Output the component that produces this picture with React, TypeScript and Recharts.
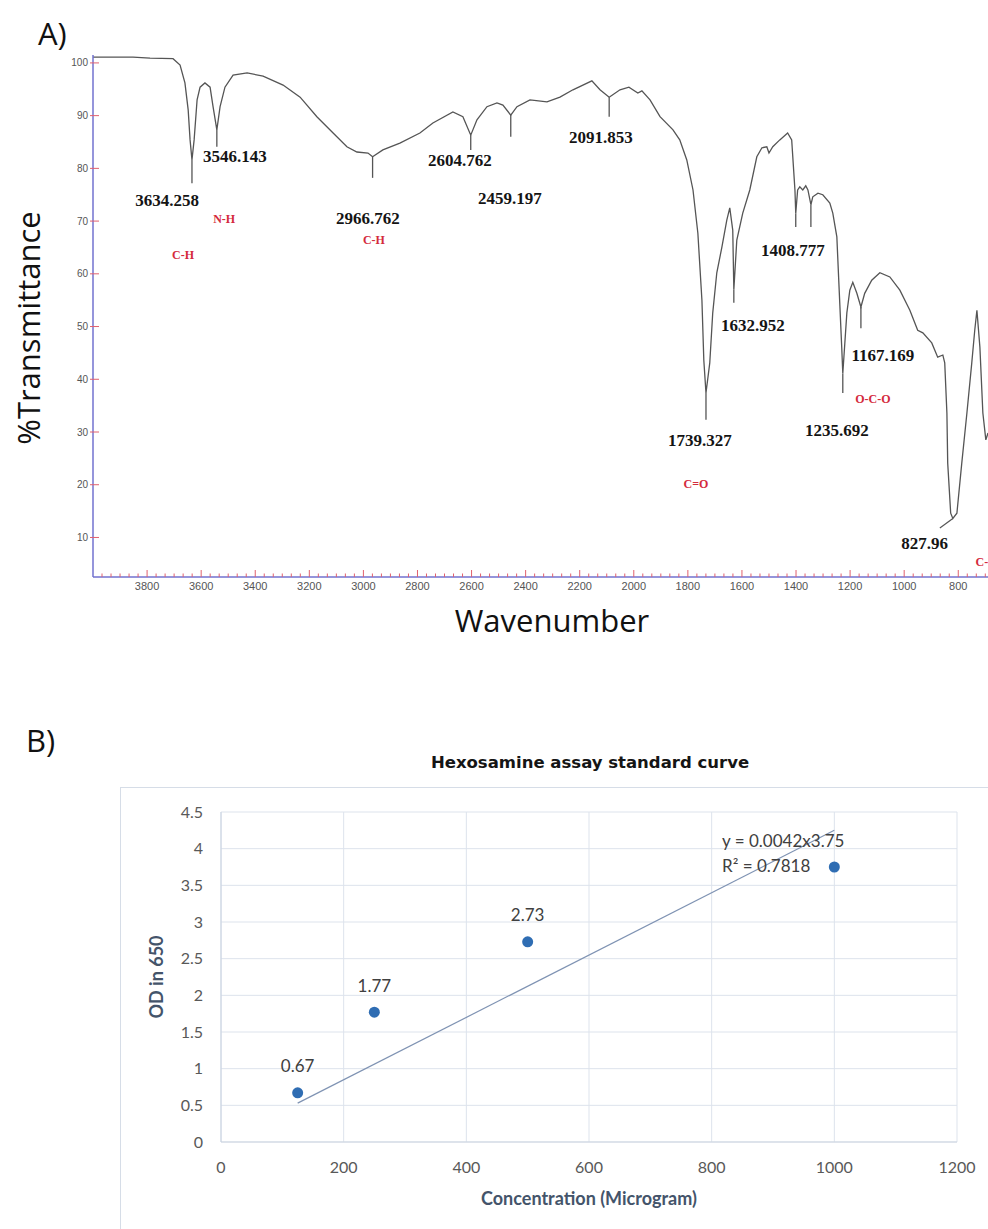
import React from "react";
import {
  LineChart,
  Line,
  XAxis,
  YAxis,
  ReferenceLine,
  ReferenceDot,
  ComposedChart,
  Scatter,
  CartesianGrid,
  LabelList,
} from "recharts";

// ---------- A) FTIR spectrum ----------
const wavenumbers = [
  4000, 3852, 3789, 3704, 3678, 3660, 3648, 3641, 3634, 3626,
  3615, 3604, 3586, 3567, 3556, 3542, 3530, 3512, 3482, 3430,
  3371, 3297, 3234, 3172, 3112, 3061, 3024, 2983, 2966, 2928,
  2865, 2791, 2743, 2669, 2632, 2603, 2580, 2543, 2506, 2484,
  2455, 2432, 2384, 2321, 2273, 2225, 2155, 2125, 2091, 2051,
  2018, 1985, 1970, 1940, 1903, 1855, 1830, 1804, 1781, 1763,
  1748, 1741, 1733, 1719, 1708, 1693, 1674, 1656, 1645, 1634,
  1630, 1619, 1597, 1571, 1545, 1526, 1508, 1500, 1486, 1460,
  1431, 1416, 1404, 1401, 1394, 1386, 1375, 1364, 1356, 1345,
  1338, 1319, 1301, 1275, 1264, 1249, 1242, 1231, 1227, 1212,
  1201, 1190, 1175, 1160, 1146, 1120, 1090, 1053, 1016, 979,
  950, 931, 898, 876, 857, 850, 842, 839, 828, 820,
  805, 787, 768, 750, 739, 731, 720, 709, 698, 690,
];

const transmittance = [
  101.1, 101.1, 100.9, 100.8, 99.6, 96.2, 91.1, 85.4, 81.6, 85.4,
  93.0, 95.4, 96.2, 95.4, 91.7, 87.3, 91.7, 95.4, 97.7, 98.1,
  97.5, 95.8, 93.5, 89.8, 86.7, 84.1, 83.1, 82.9, 82.2, 83.5,
  84.8, 86.7, 88.6, 90.7, 89.8, 86.3, 89.2, 91.7, 92.4, 92.0,
  90.1, 91.7, 93.0, 92.6, 93.5, 94.9, 96.6, 94.9, 93.5, 94.9,
  95.4, 94.3, 94.7, 93.0, 89.8, 87.3, 85.4, 81.6, 75.9, 67.7,
  55.0, 43.6, 37.4, 43.1, 52.6, 60.2, 65.1, 70.2, 72.5, 68.3,
  57.0, 66.4, 71.5, 75.9, 82.2, 83.9, 84.1, 82.9, 84.1, 85.4,
  86.7, 85.4, 75.9, 71.5, 75.9, 76.5, 75.9, 76.7, 75.9, 73.1,
  74.6, 75.3, 75.0, 73.4, 71.5, 67.0, 58.8, 46.1, 41.1, 52.6,
  56.9, 58.4, 56.3, 53.7, 56.3, 58.8, 60.2, 59.4, 56.9, 53.1,
  49.3, 48.8, 46.9, 44.2, 44.6, 43.1, 33.6, 24.1, 14.6, 13.6,
  14.6, 24.1, 33.6, 43.1, 49.3, 53.1, 46.1, 33.6, 28.5, 29.8,
];

const spectrum = wavenumbers.map((wn, i) => ({ wn, t: transmittance[i] }));

// marker strokes under the labelled bands: wavenumber, curve minimum, end of stroke
const peakLines = [
  [3634, 81.6, 77.2],
  [3542, 87.3, 84.1],
  [2966, 82.2, 78.2],
  [2603, 86.3, 83.5],
  [2455, 90.1, 86.0],
  [2091, 93.5, 89.8],
  [1733, 37.4, 32.3],
  [1630, 57.0, 54.5],
  [1401, 71.5, 68.9],
  [1345, 73.1, 68.9],
  [1227, 41.1, 37.4],
  [1160, 53.7, 49.7],
];

const peakLabels = [
  ["3634.258", 3726, 74.0],
  ["3546.143", 3475, 82.4],
  ["2966.762", 2983, 70.6],
  ["2604.762", 2643, 81.6],
  ["2459.197", 2458, 74.4],
  ["2091.853", 2122, 86.0],
  ["1739.327", 1756, 28.5],
  ["1632.952", 1560, 50.3],
  ["1408.777", 1412, 64.5],
  ["1235.692", 1249, 30.4],
  ["1167.169", 1079, 44.6],
  ["827.96", 924, 8.9],
];

const bondLabels = [
  ["N-H", 3515, 70.4],
  ["C-H", 3667, 63.6],
  ["C-H", 2961, 66.4],
  ["C=O", 1770, 20.1],
  ["O-C-O", 1116, 36.4],
];

const majorTicks = [3800, 3600, 3400, 3200, 3000, 2800, 2600, 2400, 2200, 2000, 1800, 1600, 1400, 1200, 1000, 800];
const percentTicks = [10, 20, 30, 40, 50, 60, 70, 80, 90, 100];

const minorTicks: number[] = [];
for (let k = -5; k <= 93; k++) {
  minorTicks.push(Math.round((3800 - (k * 200) / 6) * 100) / 100);
}

// ---------- B) Hexosamine standard curve ----------
const concentration = [125, 250, 500, 1000];
const od650 = [0.67, 1.77, 2.73, 3.75];
const odLabels = ["0.67", "1.77", "2.73", ""];
const concTicks = [0, 200, 400, 600, 800, 1000, 1200];
const odTicks = [0, 0.5, 1, 1.5, 2, 2.5, 3, 3.5, 4, 4.5];
const trendX = [125, 1000];
const trendY = [0.53, 4.25];

const points = concentration.map((x, i) => ({ x, y: od650[i], label: odLabels[i] }));
const trend = trendX.map((x, i) => ({ x, y: trendY[i] }));

const AXIS_BLUE = "#7272cf";
const TICK_RED = "#e0606e";
const CURVE = "#555555";

const SpectrumXTick = (props: any) => {
  const { x, y, payload } = props;
  const major = majorTicks.includes(payload.value);
  return (
    <g>
      <line x1={x} x2={x} y1={y} y2={y - (major ? 7 : 3.5)} stroke={TICK_RED} strokeWidth={1} />
      {major && (
        <text x={x} y={y + 13} textAnchor="middle" fontSize={11} fill="#555" fontFamily="Liberation Sans">
          {payload.value}
        </text>
      )}
    </g>
  );
};

const SpectrumYTick = (props: any) => {
  const { x, y, payload } = props;
  return (
    <g>
      <line x1={x + 1} x2={x + 10} y1={y} y2={y} stroke={TICK_RED} strokeWidth={1} />
      <text x={x - 1} y={y + 3.5} textAnchor="end" fontSize={10} fill="#555" fontFamily="Liberation Sans">
        {payload.value}
      </text>
    </g>
  );
};

const Dot = (props: any) => <circle cx={props.cx} cy={props.cy} r={5.5} fill="#2f6db3" />;

export default function App() {
  return (
    <div
      style={{
        position: "absolute",
        left: 0,
        top: 0,
        width: 988,
        height: 1229,
        overflow: "hidden",
        background: "#fff",
      }}
    >
      <svg width={988} height={1229} style={{ position: "absolute", left: 0, top: 0 }}>
        <g fontFamily="Open Sans" fill="#111">
          <text x={38} y={45} fontSize={31}>A)</text>
          <text x={26} y={752} fontSize={31}>B)</text>
          <text transform="translate(40,328) rotate(-90)" textAnchor="middle" fontSize={31}>
            %Transmittance
          </text>
          <text x={552} y={632} textAnchor="middle" fontSize={31}>Wavenumber</text>
        </g>
      </svg>

      <div style={{ position: "absolute", left: 0, top: 0 }}>
        <LineChart width={988} height={620} data={spectrum} margin={{ top: 55, right: 0, bottom: 13, left: 33 }}>
          <XAxis
            type="number"
            dataKey="wn"
            domain={[690, 4000]}
            reversed
            allowDataOverflow
            ticks={minorTicks}
            interval={0}
            tick={<SpectrumXTick />}
            tickLine={false}
            tickSize={0}
            tickMargin={0}
            height={30}
            axisLine={{ stroke: AXIS_BLUE, strokeWidth: 1.5 }}
          />
          <YAxis
            type="number"
            domain={[2.5, 101.5]}
            allowDataOverflow
            ticks={percentTicks}
            interval={0}
            tick={<SpectrumYTick />}
            tickLine={false}
            tickSize={0}
            tickMargin={4}
            width={60}
            axisLine={{ stroke: AXIS_BLUE, strokeWidth: 1.5 }}
          />
          <Line
            dataKey="t"
            type="linear"
            stroke={CURVE}
            strokeWidth={1.3}
            dot={false}
            isAnimationActive={false}
          />
          {peakLines.map(([wn, top, bottom], i) => (
            <ReferenceLine
              key={"pl" + i}
              segment={[
                { x: wn, y: top },
                { x: wn, y: bottom },
              ]}
              stroke={CURVE}
              strokeWidth={1.3}
            />
          ))}
          <ReferenceLine
            segment={[
              { x: 820, y: 13.6 },
              { x: 868, y: 11.8 },
            ]}
            stroke={CURVE}
            strokeWidth={1.2}
          />
          {peakLabels.map(([text, wn, t], i) => (
            <ReferenceDot
              key={"lab" + i}
              x={wn as number}
              y={t as number}
              r={0}
              fill="none"
              stroke="none"
              label={{
                value: text as string,
                position: "center",
                fill: "#141414",
                fontSize: 17,
                fontWeight: "bold",
                fontFamily: "Liberation Serif",
              }}
            />
          ))}
          {bondLabels.map(([text, wn, t], i) => (
            <ReferenceDot
              key={"bond" + i}
              x={wn as number}
              y={t as number}
              r={0}
              fill="none"
              stroke="none"
              label={{
                value: text as string,
                position: "center",
                fill: "#d42a3c",
                fontSize: 12,
                fontWeight: "bold",
                fontFamily: "Liberation Serif",
              }}
            />
          ))}
          <ReferenceDot
            x={736}
            y={5.3}
            r={0}
            fill="none"
            stroke="none"
            label={{
              value: "C-H",
              position: "right",
              offset: 0,
              fill: "#d42a3c",
              fontSize: 12,
              fontWeight: "bold",
              fontFamily: "Liberation Serif",
            }}
          />
        </LineChart>
      </div>

      <div
        style={{
          position: "absolute",
          left: 120,
          top: 787,
          width: 1000,
          height: 600,
          border: "1.5px solid #d6dde7",
        }}
      />
      <div
        style={{
          position: "absolute",
          left: 0,
          top: 753,
          width: 1180,
          textAlign: "center",
          fontFamily: "DejaVu Sans",
          fontWeight: "bold",
          fontSize: 16.5,
          lineHeight: "20px",
          color: "#151515",
        }}
      >
        Hexosamine assay standard curve
      </div>

      <div style={{ position: "absolute", left: 0, top: 740 }}>
        <ComposedChart width={988} height={489} margin={{ top: 72, right: 31, bottom: 57, left: 141 }}>
          <CartesianGrid stroke="#dde3ec" strokeWidth={1} />
          <XAxis
            type="number"
            dataKey="x"
            domain={[0, 1200]}
            ticks={concTicks}
            interval={0}
            tickLine={false}
            tickSize={0}
            tickMargin={20}
            height={30}
            axisLine={{ stroke: "#cdd5e1" }}
            tick={{ fill: "#595959", fontSize: 16, fontFamily: "Lato" }}
            label={{
              value: "Concentration (Microgram)",
              position: "bottom",
              offset: 20,
              fill: "#44546a",
              fontSize: 18,
              fontWeight: "bold",
              fontFamily: "Lato",
            }}
          />
          <YAxis
            type="number"
            domain={[0, 4.5]}
            ticks={odTicks}
            interval={0}
            tickLine={false}
            tickSize={0}
            tickMargin={18}
            width={80}
            axisLine={{ stroke: "#c8d2e1" }}
            tick={{ fill: "#595959", fontSize: 16, fontFamily: "Lato" }}
            label={{
              value: "OD in 650",
              angle: -90,
              position: "insideLeft",
              offset: 16,
              fill: "#44546a",
              fontSize: 18,
              fontWeight: "bold",
              fontFamily: "Lato",
              style: { textAnchor: "middle" },
            }}
          />
          <Line
            data={trend}
            dataKey="y"
            type="linear"
            stroke="#7f93b3"
            strokeWidth={1.2}
            dot={false}
            isAnimationActive={false}
          />
          <Scatter data={points} dataKey="y" shape={<Dot />} isAnimationActive={false}>
            <LabelList dataKey="label" position="top" offset={16} fill="#404040" fontSize={17} fontFamily="Lato" />
          </Scatter>
          <ReferenceDot
            x={817}
            y={4.1}
            r={0}
            fill="none"
            stroke="none"
            label={{ value: "y = 0.0042x3.75", position: "right", offset: 0, fill: "#404040", fontSize: 17, fontFamily: "Lato" }}
          />
          <ReferenceDot
            x={817}
            y={3.76}
            r={0}
            fill="none"
            stroke="none"
            label={{ value: "R² = 0.7818", position: "right", offset: 0, fill: "#404040", fontSize: 17, fontFamily: "Lato" }}
          />
        </ComposedChart>
      </div>
    </div>
  );
}
